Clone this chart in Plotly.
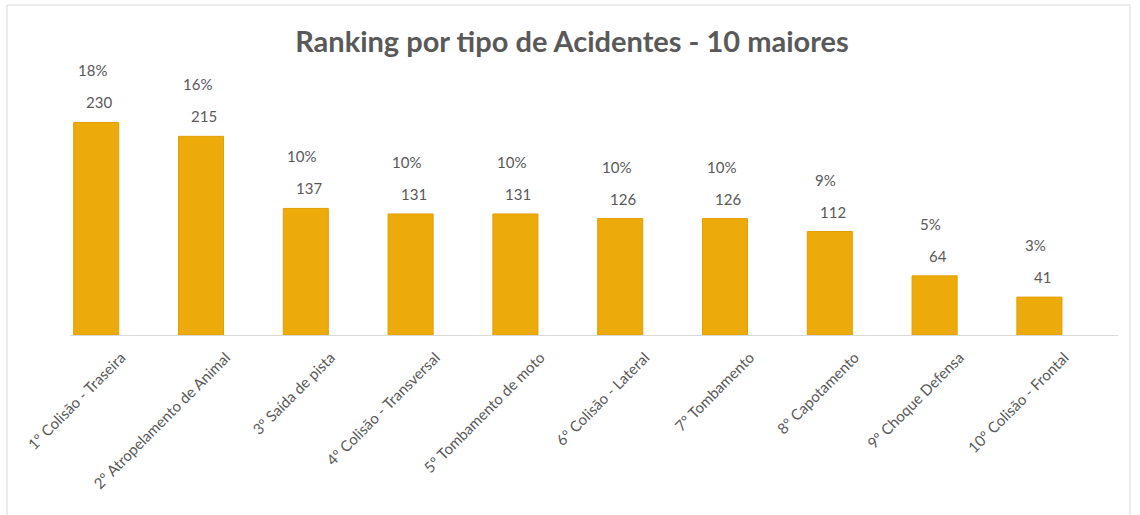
import plotly.graph_objects as go

categories = [
    "1º Colisão - Traseira",
    "2º Atropelamento de Animal",
    "3º Saída de pista",
    "4º Colisão - Transversal",
    "5º Tombamento de moto",
    "6º Colisão - Lateral",
    "7º Tombamento",
    "8º Capotamento",
    "9º Choque Defensa",
    "10º Colisão - Frontal",
]
values = [230, 215, 137, 131, 131, 126, 126, 112, 64, 41]
percents = ["18%", "16%", "10%", "10%", "10%", "10%", "10%", "9%", "5%", "3%"]

W, H = 1140, 515
ml, mr, mt, mb = 70, 22, 104, 180
pw, ph = W - ml - mr, H - mt - mb

FONT = "Lato"
TXT = "#595959"

fig = go.Figure()
fig.add_trace(go.Bar(
    x=list(range(len(categories))),
    y=values,
    marker=dict(color="#EDAB0B", line=dict(color="#E0A000", width=1)),
    width=0.43,
    hoverinfo="skip",
))

annotations = []
for i, (v, p) in enumerate(zip(values, percents)):
    annotations.append(dict(x=i, y=v, xref="x", yref="y", text=str(v), showarrow=False,
                            xanchor="center", yanchor="middle", yshift=20, xshift=3,
                            font=dict(family=FONT, size=15, color=TXT)))
    annotations.append(dict(x=i, y=v, xref="x", yref="y", text=p, showarrow=False,
                            xanchor="center", yanchor="middle", yshift=52, xshift=-4,
                            font=dict(family=FONT, size=15, color=TXT)))

# outer chart border
bx0 = (7 - ml) / pw
bx1 = (1130 - ml) / pw
by1 = 1 + (mt - 5) / ph
by0 = -(mb + 20) / ph

fig.update_layout(
    width=W, height=H,
    margin=dict(l=ml, r=mr, t=mt, b=mb),
    paper_bgcolor="white", plot_bgcolor="white",
    showlegend=False,
    title=dict(text="<b>Ranking por tipo de Acidentes - 10 maiores</b>",
               x=572 / W, xanchor="center", y=1 - 42 / H, yanchor="middle",
               font=dict(family=FONT, size=29, color=TXT)),
    xaxis=dict(range=[-0.25, 9.75], tickmode="array",
               tickvals=list(range(len(categories))), ticktext=categories,
               tickangle=-45, showgrid=False, zeroline=False,
               showline=True, linecolor="#D9D9D9", linewidth=1,
               ticks="", ticklabelshift=25, ticklabelstandoff=7,
               tickfont=dict(family=FONT, size=15, color=TXT)),
    yaxis=dict(range=[0, 250], visible=False, showgrid=False, zeroline=False),
    annotations=annotations,
    shapes=[dict(type="rect", xref="paper", yref="paper", x0=bx0, x1=bx1, y0=by0, y1=by1,
                 line=dict(color="#D9D9D9", width=1), fillcolor="rgba(0,0,0,0)", layer="below")],
)

fig.write_html("out.html")
